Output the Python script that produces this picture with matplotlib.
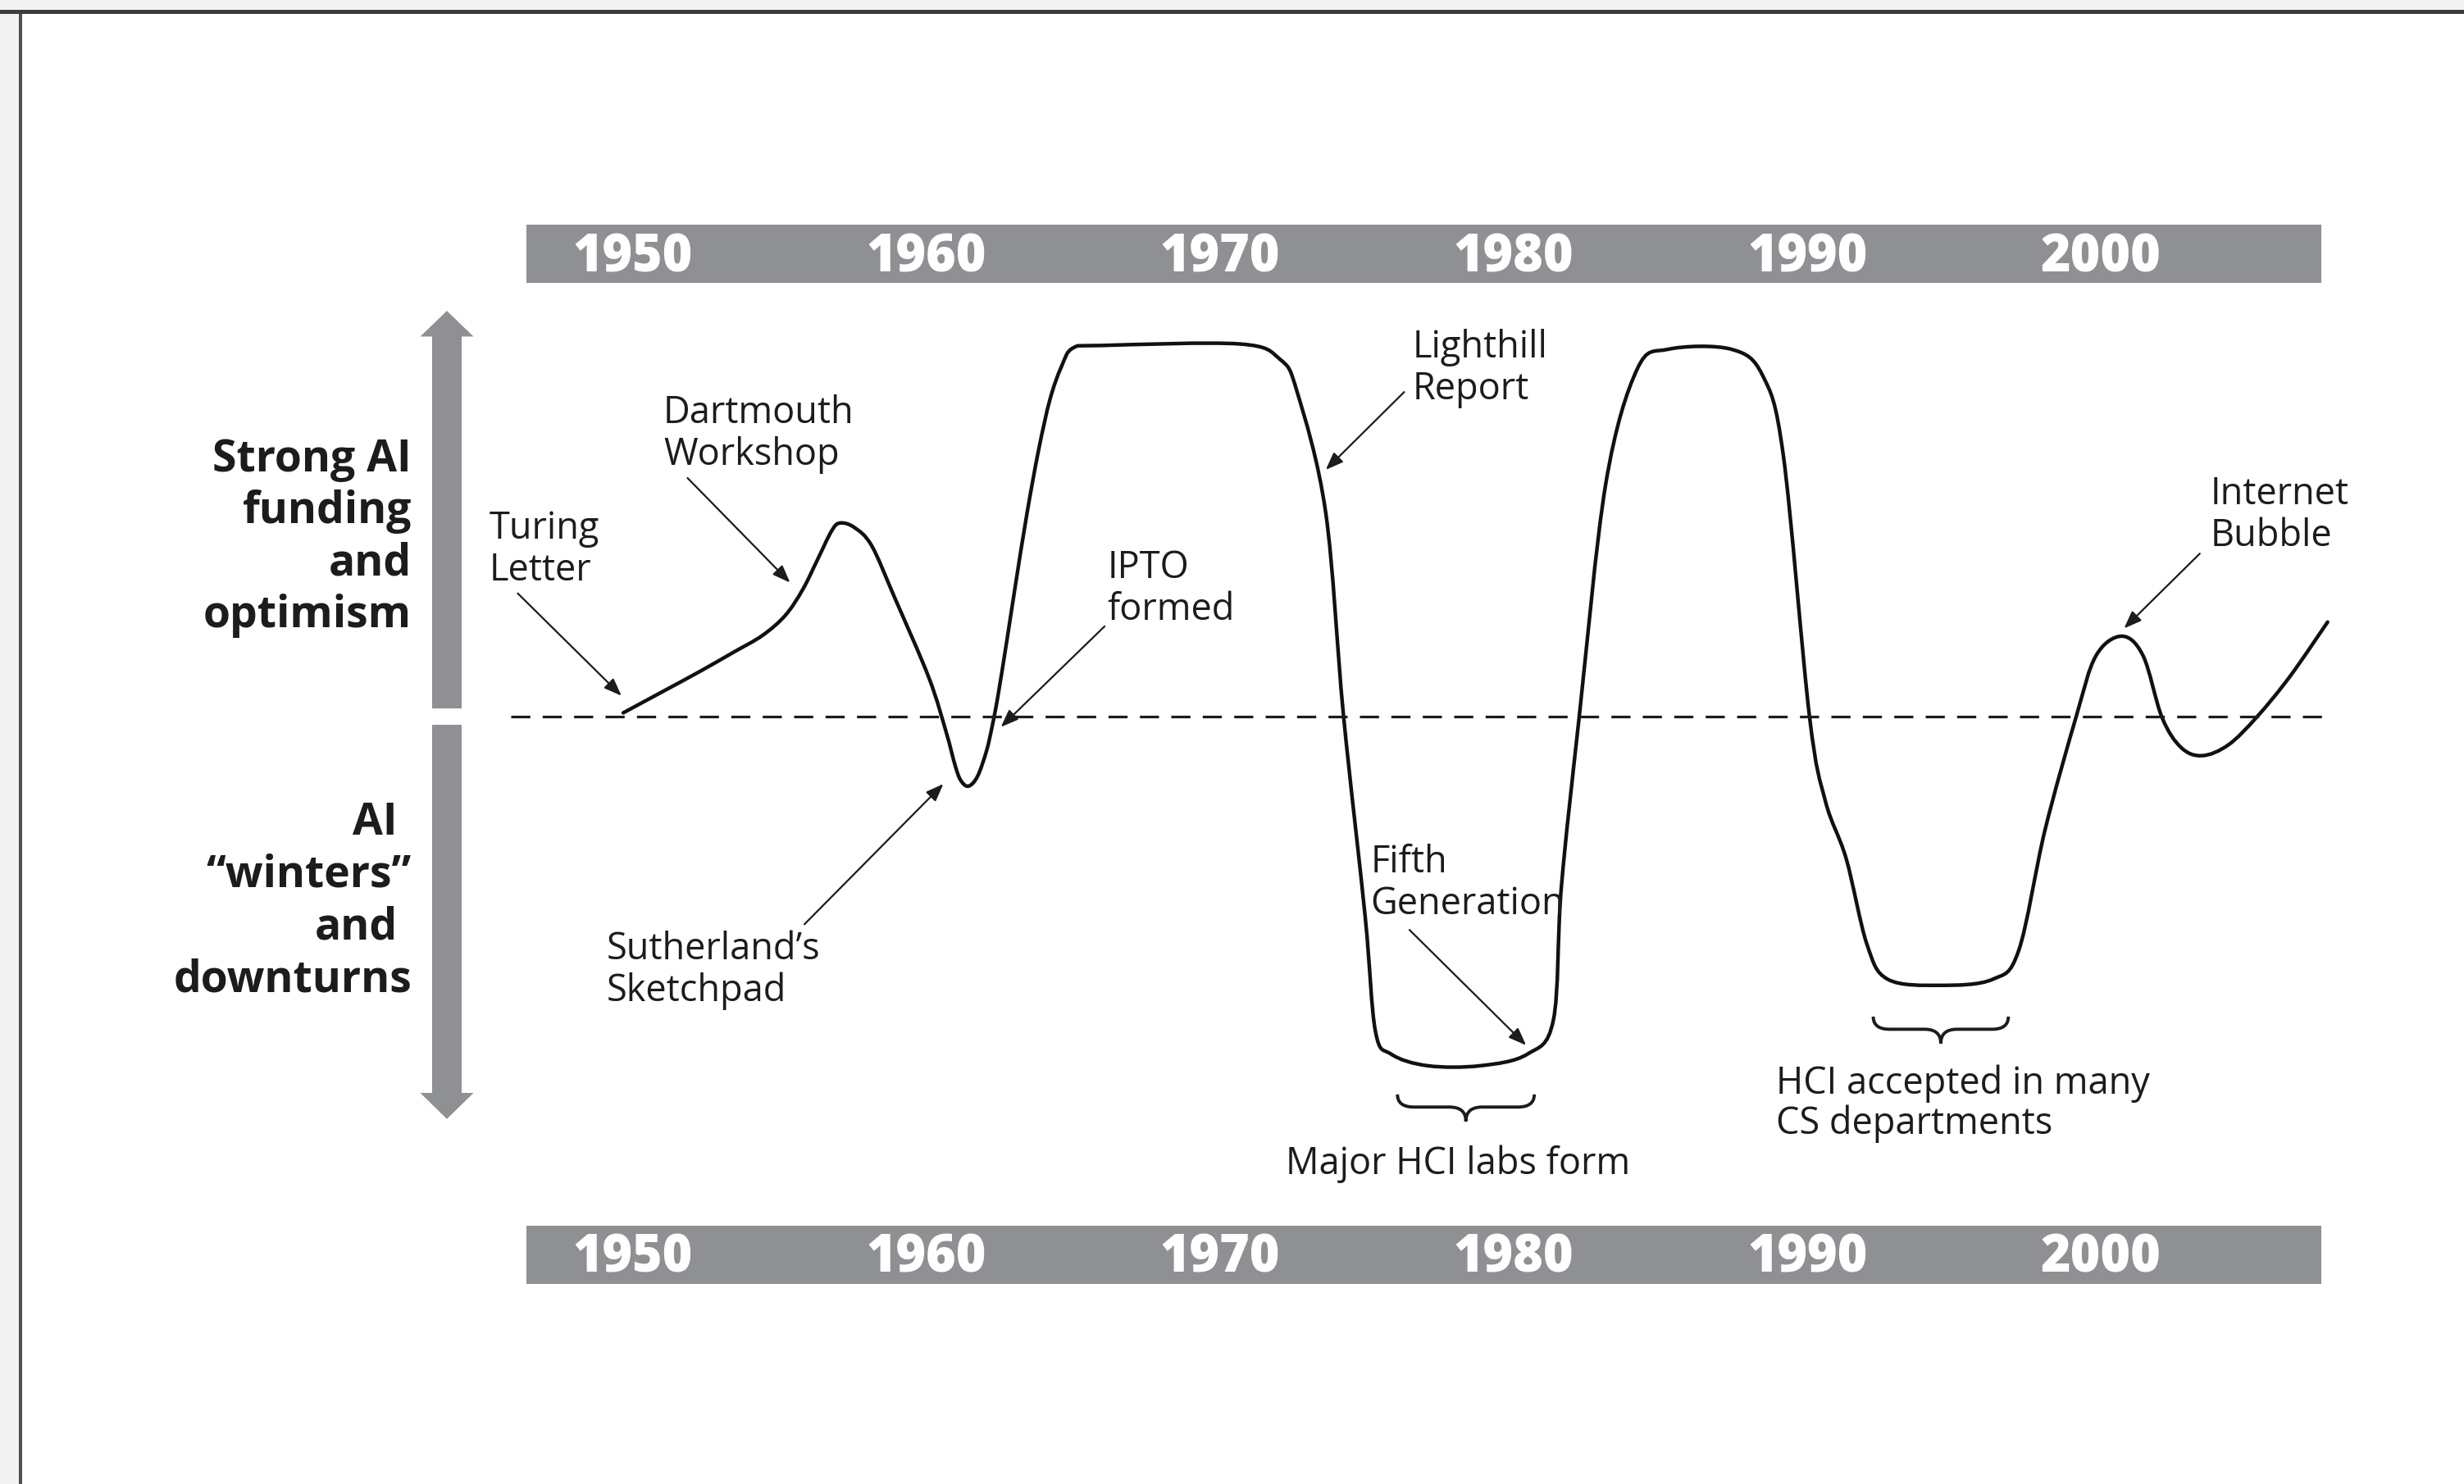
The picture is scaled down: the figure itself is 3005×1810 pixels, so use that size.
import numpy as np
import matplotlib.pyplot as plt
from matplotlib.path import Path
from matplotlib.patches import PathPatch, Polygon, Rectangle

plt.rcParams['font.family'] = ['Open Sans', 'DejaVu Sans']

# funding curve: year, level (0 = dashed line, 1 = boom plateau)
curve_years = [1949.68, 1951.09, 1952.26, 1953.44, 1954.42, 1955.20, 1955.79, 1956.28,
               1956.77, 1957.06, 1957.55, 1958.14, 1958.92, 1960.09, 1960.68, 1960.98,
               1961.17, 1961.43, 1961.74, 1962.05, 1962.25, 1962.44, 1962.74, 1963.03,
               1963.43, 1963.82, 1964.21, 1964.60, 1964.99, 1965.97,
               1970.68, 1972.04, 1972.63, 1973.60, 1974.20, 1974.94, 1975.29,
               1975.83, 1977.07, 1978.86, 1980.46, 1981.35, 1981.62, 1982.23, 1983.13,
               1984.20, 1985.27, 1987.40, 1988.47, 1989.18, 1990.07, 1990.61, 1991.32,
               1992.03, 1992.74, 1994.52, 1996.30, 1997.19, 1998.09, 1999.15, 1999.82,
               2000.70, 2001.43, 2002.07, 2002.72, 2003.44, 2004.33, 2005.29, 2006.42,
               2007.71]
curve_levels = [0.010, 0.070, 0.120, 0.173, 0.218, 0.272, 0.341, 0.419,
                0.498, 0.520, 0.508, 0.459, 0.320, 0.104, -0.043, -0.131,
                -0.171, -0.187, -0.161, -0.092, -0.023, 0.056, 0.203, 0.351,
                0.547, 0.715, 0.852, 0.940, 0.990, 0.997,
                1.001, 0.960, 0.871, 0.547, 0.006, -0.536, -0.845,
                -0.907, -0.938, -0.938, -0.907, -0.815, -0.459, 0.000, 0.624,
                0.933, 0.987, 0.987, 0.917, 0.701, 0.000, -0.227, -0.382,
                -0.613, -0.706, -0.722, -0.706, -0.629, -0.304, 0.000, 0.163,
                0.216, 0.163, -0.002, -0.083, -0.105, -0.076, -0.002, 0.107,
                0.254]

decades = [1950, 1960, 1970, 1980, 1990, 2000]
decade_labels = ['1950', '1960', '1970', '1980', '1990', '2000']

# events: label, text anchor (left, first baseline), arrow start, arrow tip
event_labels = ['Turing\nLetter', 'Dartmouth\nWorkshop', 'Sutherland\u2019s\nSketchpad',
                'IPTO\nformed', 'Lighthill\nReport', 'Fifth\nGeneration',
                'Internet\nBubble']
event_text = [(1945.12, 0.478), (1951.05, 0.788), (1949.11, -0.651), (1966.17, 0.372),
              (1976.54, 0.965), (1975.12, -0.419), (2003.73, 0.571)]
event_from = [(1946.09, 0.331), (1951.87, 0.641), (1955.85, -0.558), (1966.07, 0.2425),
              (1976.27, 0.872), (1976.45, -0.573), (2003.36, 0.438)]
event_to = [(1949.62, 0.056), (1955.36, 0.360), (1960.58, -0.181), (1962.54, -0.028),
            (1973.60, 0.663), (1980.42, -0.883), (2000.78, 0.237)]

# periods marked with a brace
period_spans = [(1976.04, 1980.70), (1992.24, 1996.84)]
period_top = [-1.015, -0.806]

INK = '#1c1c1c'
GREY = '#8f9094'
PX_YEAR = 35.82
X0 = 1950 - 771.5 / PX_YEAR


def px(x, y):
    # reference pixel -> data coordinates
    return X0 + x / PX_YEAR, (874 - y) / 454


fig = plt.figure(figsize=(30.05, 18.10), dpi=100)
ax = fig.add_axes([0, 0, 1, 1])
ax.set_xlim(X0, X0 + 3005 / PX_YEAR)
ax.set_ylim((874 - 1810) / 454, 874 / 454)
ax.axis('off')

# page frame
fig.add_artist(Rectangle((0, 1 - 12 / 1810), 1, 12 / 1810, transform=fig.transFigure,
                         color='#f3f3f3', lw=0))
fig.add_artist(Rectangle((0, 1 - 17 / 1810), 1, 5 / 1810, transform=fig.transFigure,
                         color='#3c3c3c', lw=0))
fig.add_artist(Rectangle((0, 0), 23 / 3005, 1 - 17 / 1810, transform=fig.transFigure,
                         color='#f3f3f3', lw=0))
fig.add_artist(Rectangle((23 / 3005, 0), 4 / 3005, 1 - 17 / 1810, transform=fig.transFigure,
                         color='#505050', lw=0))

# decade bars
for top, bot, base in [(274, 345, 331.7), (1495, 1566, 1552)]:
    xa, yb = px(642, bot)
    xb, yt = px(2831, top)
    ax.add_patch(Rectangle((xa, yb), xb - xa, yt - yb, color=GREY, lw=0))
    yl = px(0, base)[1]
    for d, lab in zip(decades, decade_labels):
        ax.text(d, yl, lab, fontsize=45, fontweight=800, color='white',
                ha='center', va='baseline')

# grey up / down arrows
xc = px(545, 0)[0]
hw, hh = 18 / PX_YEAR, 32.5 / PX_YEAR
ax.add_patch(Polygon([(xc - hw, 0.022), (xc - hw, 1.021), (xc - hh, 1.021), (xc, 1.090),
                      (xc + hh, 1.021), (xc + hw, 1.021), (xc + hw, 0.022)],
                     closed=True, color=GREY, lw=0))
ax.add_patch(Polygon([(xc - hw, -0.022), (xc - hw, -1.011), (xc - hh, -1.011), (xc, -1.081),
                      (xc + hh, -1.011), (xc + hw, -1.011), (xc + hw, -0.022)],
                     closed=True, color=GREY, lw=0))

# side labels
xr = px(502, 0)[0]
off = 17 / PX_YEAR
for k, line in enumerate(['Strong AI', 'funding', 'and', 'optimism']):
    ax.text(xr, 0.659 - k * 0.1399, line, fontsize=38.5, fontweight='bold', color=INK,
            ha='right', va='baseline')
for k, (line, shift) in enumerate([('AI', off), ('\u201cwinters\u201d', 0),
                                   ('and', off), ('downturns', 0)]):
    ax.text(xr - shift, -0.317 - k * 0.1407, line, fontsize=38.5, fontweight='bold',
            color=INK, ha='right', va='baseline')

# neutral line
ax.plot([px(623, 0)[0], px(2833, 0)[0]], [0, 0], color=INK, lw=2.3, dashes=(7.3, 4.7))

# funding curve, smoothed through the read points
pts = np.column_stack([curve_years, curve_levels])
ext = np.vstack([pts[0], pts, pts[-1]])
verts = [pts[0]]
codes = [Path.MOVETO]
for i in range(1, len(ext) - 2):
    p0, p1, p2, p3 = ext[i - 1], ext[i], ext[i + 1], ext[i + 2]
    verts += [p1 + (p2 - p0) / 6, p2 - (p3 - p1) / 6, p2]
    codes += [Path.CURVE4] * 3
ax.add_patch(PathPatch(Path(verts, codes), fill=False, lw=3.2, edgecolor='#111111',
                       capstyle='round', joinstyle='round'))

# event labels with arrows
for label, (tx, ty), start, tip in zip(event_labels, event_text, event_from, event_to):
    for k, line in enumerate(label.split('\n')):
        ax.text(tx, ty - k * 0.1123, line, fontsize=32.5, color=INK, ha='left',
                va='baseline')
    ax.annotate('', xy=tip, xytext=start,
                arrowprops=dict(arrowstyle='-|>,head_length=0.65,head_width=0.25',
                                lw=1.6, color=INK, shrinkA=0, shrinkB=0, mutation_scale=20))

# braces under the troughs
for (x0, x1), top in zip(period_spans, period_top):
    mid = top - 0.034
    tip = top - 0.072
    c = (x0 + x1) / 2
    r = (x1 - x0) * 0.12
    bv = [(x0, top), (x0, mid), (x0 + r, mid), (c - r, mid), (c, mid), (c, tip),
          (c, mid), (c + r, mid), (x1 - r, mid), (x1, mid), (x1, top)]
    bc = [Path.MOVETO, Path.CURVE3, Path.CURVE3, Path.LINETO, Path.CURVE3, Path.CURVE3,
          Path.CURVE3, Path.CURVE3, Path.LINETO, Path.CURVE3, Path.CURVE3]
    ax.add_patch(PathPatch(Path(bv, bc), fill=False, lw=2.8, edgecolor=INK))

ax.text(1978.11, -1.230, 'Major HCI labs form', fontsize=32.5, color=INK,
        ha='center', va='baseline')
ax.text(1988.92, -1.014, 'HCI accepted in many', fontsize=32.5, color=INK,
        ha='left', va='baseline')
ax.text(1988.92, -1.122, 'CS departments', fontsize=32.5, color=INK,
        ha='left', va='baseline')

fig.savefig('out.png', dpi=100, facecolor='white')
